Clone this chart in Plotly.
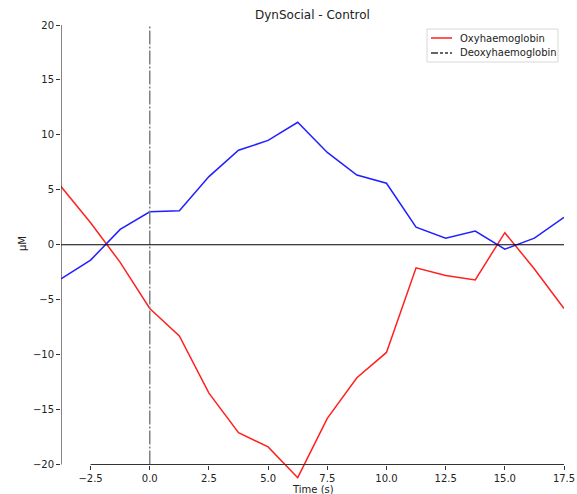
import plotly.graph_objects as go

# Time axis (s) and mean haemoglobin concentration changes (µM)
time_s = [-3.75, -2.5, -1.25, 0.0, 1.25, 2.5, 3.75, 5.0, 6.25, 7.5,
          8.75, 10.0, 11.25, 12.5, 13.75, 15.0, 16.25, 17.5]
oxy_hb = [5.3, 2.0, -1.6, -5.8, -8.3, -13.5, -17.1, -18.4, -21.2, -15.8,
          -12.1, -9.8, -2.1, -2.8, -3.2, 1.1, -2.2, -5.8]
deoxy_hb = [-3.1, -1.4, 1.4, 3.0, 3.1, 6.2, 8.6, 9.5, 11.15, 8.4,
            6.35, 5.6, 1.6, 0.6, 1.25, -0.4, 0.6, 2.5]

x_ticks = [-2.5, 0.0, 2.5, 5.0, 7.5, 10.0, 12.5, 15.0, 17.5]
y_ticks = [-20, -15, -10, -5, 0, 5, 10, 15, 20]
legend_labels = ["Oxyhaemoglobin", "Deoxyhaemoglobin"]

X_MIN, X_MAX = -3.75, 17.5
Y_MIN, Y_MAX = -20, 20
Y_FLOOR = -21.5  # room below the trimmed spine for the deepest dip

W, H = 577, 494
ML, MR, MT, MB = 61, 13, 25, 13
PW, PH = W - ML - MR, H - MT - MB

FONT = "DejaVu Sans"
TEXT = "#222222"
SPINE = "#333333"
RED = "#ff2020"
BLUE = "#2020ff"


def px(xp):
    """Horizontal pixel -> paper fraction."""
    return (xp - ML) / PW


def py(yp):
    """Vertical pixel (from top) -> paper fraction."""
    return (H - MB - yp) / PH


fig = go.Figure()

fig.add_trace(go.Scatter(
    x=time_s, y=oxy_hb, mode="lines", showlegend=False,
    line=dict(color=RED, width=1.5),
))
fig.add_trace(go.Scatter(
    x=time_s, y=deoxy_hb, mode="lines", showlegend=False,
    line=dict(color=BLUE, width=1.5),
))
# stimulus onset marker
fig.add_trace(go.Scatter(
    x=[0, 0], y=[Y_MIN, Y_MAX], mode="lines", showlegend=False,
    line=dict(color="#808080", width=1.5, dash="14px,2px,2px,2px"),
))
# baseline
fig.add_trace(go.Scatter(
    x=[X_MIN, X_MAX], y=[0, 0], mode="lines", showlegend=False,
    line=dict(color="black", width=1),
))

shapes = [
    # trimmed spines
    dict(type="line", x0=X_MIN, x1=X_MIN, y0=Y_MIN, y1=Y_MAX,
         xref="x", yref="y", line=dict(color=SPINE, width=1.2)),
    dict(type="line", x0=x_ticks[0], x1=x_ticks[-1], y0=Y_MIN, y1=Y_MIN,
         xref="x", yref="y", line=dict(color=SPINE, width=1.2)),
    # legend frame
    dict(type="rect", x0=px(427), x1=px(558), y0=py(29), y1=py(62),
         xref="paper", yref="paper", fillcolor="white",
         line=dict(color="#d8d8d8", width=1)),
    # legend handles
    dict(type="line", x0=px(431), x1=px(452), y0=py(38), y1=py(38),
         xref="paper", yref="paper", line=dict(color=RED, width=1.5)),
    dict(type="line", x0=px(431), x1=px(452), y0=py(53), y1=py(53),
         xref="paper", yref="paper",
         line=dict(color="#333333", width=1.5, dash="7px,2px,3px,2px,3px,2px")),
]

annotations = [
    dict(text="DynSocial - Control", x=0.5, y=py(15),
         font=dict(size=12, family=FONT, color=TEXT)),
    dict(text="Time (s)", x=0.5, y=py(489),
         font=dict(size=10, family=FONT, color=TEXT)),
    dict(text="\u03bcM", x=px(22), y=py(244), textangle=-90,
         font=dict(size=10, family=FONT, color=TEXT)),
]
for label, yp in zip(legend_labels, [38, 53]):
    annotations.append(dict(
        text=label, x=px(458), y=py(yp), xanchor="left",
        font=dict(size=10, family=FONT, color=TEXT)))
for a in annotations:
    a.setdefault("xanchor", "center")
    a.update(xref="paper", yref="paper", showarrow=False, yanchor="middle")

spine_pos = (Y_MIN - Y_FLOOR) / (Y_MAX - Y_FLOOR)

fig.update_layout(
    width=W, height=H,
    margin=dict(l=ML, r=MR, t=MT, b=MB, autoexpand=False),
    paper_bgcolor="white", plot_bgcolor="white",
    font=dict(family=FONT, size=10, color=TEXT),
    showlegend=False,
    xaxis=dict(
        range=[X_MIN, X_MAX], tickvals=x_ticks,
        ticktext=[f"{v:.1f}".replace("-", "\u2212") for v in x_ticks],
        ticks="outside", ticklen=4, tickcolor=SPINE, tickfont=dict(color=TEXT),
        showgrid=False, zeroline=False, showline=False, automargin=False,
        anchor="free", position=spine_pos,
    ),
    yaxis=dict(
        range=[Y_FLOOR, Y_MAX], tickvals=y_ticks,
        ticktext=[str(v).replace("-", "\u2212") for v in y_ticks],
        ticks="outside", ticklen=4, tickcolor=SPINE, tickfont=dict(color=TEXT),
        showgrid=False, zeroline=False, showline=False, automargin=False,
    ),
    shapes=shapes,
    annotations=annotations,
)

fig.write_html("out.html")
